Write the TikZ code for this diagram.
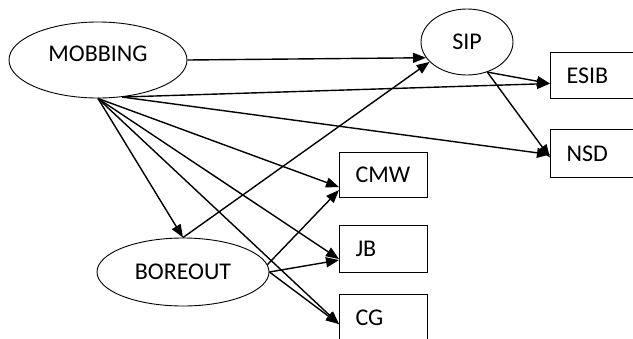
\documentclass[tikz,border=0pt]{standalone}
\usepackage{fontspec}
\setmainfont{Carlito}
\usetikzlibrary{arrows.meta,calc,shapes.geometric}

\begin{document}
\begin{tikzpicture}[x=1pt,y=-1pt,
  latent/.style={ellipse, draw, line width=0.9pt, inner sep=0pt, font=\fontsize{24}{28}\selectfont},
  observed/.style={rectangle, draw, line width=1.1pt, anchor=north west, inner xsep=16pt, inner ysep=0pt,
    text width=56pt, align=left, font=\fontsize{24}{28}\selectfont},
  arrow/.style={-{Triangle[length=13pt,width=10pt]}, line width=1.4pt}]
\useasboundingbox (0,0) rectangle (633,338);
% latent variables
\node[latent, minimum width=178pt, minimum height=76pt, text depth=12pt] (MOBBING) at (98,60) {MOBBING};
\node[latent, minimum width=92pt, minimum height=66pt] (SIP) at (467,42) {SIP};
\node[latent, minimum width=172pt, minimum height=68pt] (BOREOUT) at (183,272) {BOREOUT};
% outcomes
\node[observed, minimum height=46pt] (ESIB) at (550,52) {ESIB};
\node[observed, minimum height=48pt] (NSD) at (550,129) {NSD};
\node[observed, minimum height=45pt] (CMW) at (339,152) {CMW};
\node[observed, minimum height=47pt] (JB) at (339,225) {JB};
\node[observed, minimum height=47pt] (CG) at (339,294) {CG};

\draw[arrow] (MOBBING.east) -- (SIP.201);
\draw[arrow] (MOBBING.-57) -- ($(ESIB.west)+(0,8)$);
\draw[arrow] (MOBBING.-57) -- ($(NSD.west)+(0,1)$);
\draw[arrow] (MOBBING.south) -- (BOREOUT.north);
\draw[arrow] (MOBBING.south) -- ($(CMW.west)+(0,12)$);
\draw[arrow] (MOBBING.south) -- ($(JB.west)+(0,10)$);
\draw[arrow] (MOBBING.south) -- ($(CG.west)+(0,6)$);
%
\draw[arrow] (BOREOUT.north) -- (SIP.208);
\draw[arrow] (BOREOUT.5) -- ($(CMW.west)+(0,15)$);
\draw[arrow] (BOREOUT.east) -- ($(JB.west)+(0,11)$);
\draw[arrow] (BOREOUT.east) -- ($(CG.west)+(0,6)$);
%
\draw[arrow] (SIP.-56) -- ($(ESIB.west)+(0,8)$);
\draw[arrow] (SIP.-56) -- ($(NSD.west)+(0,4)$);

\end{tikzpicture}
\end{document}
